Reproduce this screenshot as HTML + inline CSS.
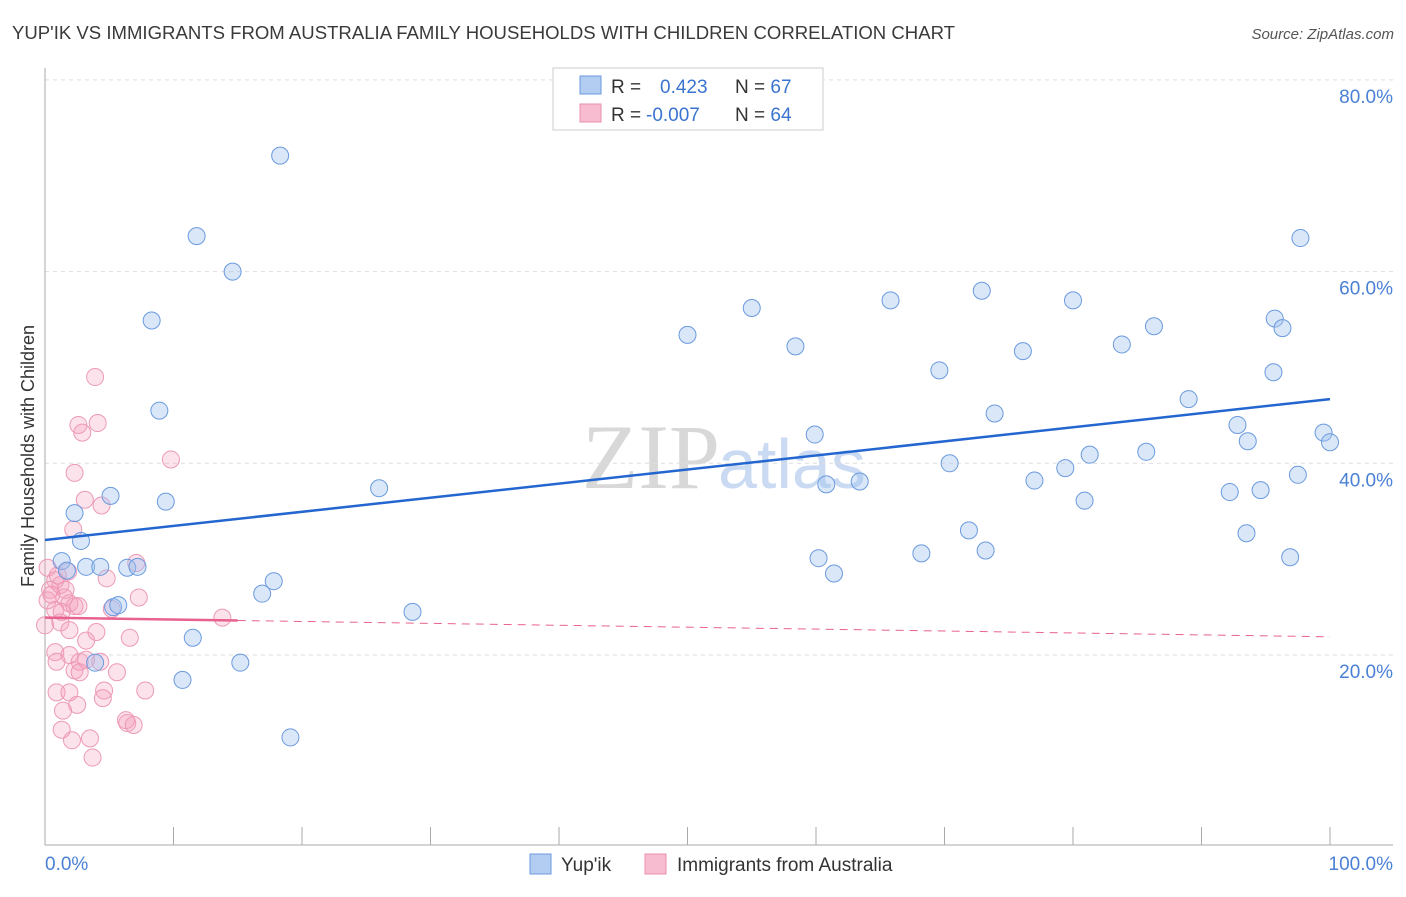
<!DOCTYPE html>
<html><head><meta charset="utf-8"><style>
body{margin:0;background:#fff;font-family:"Liberation Sans",sans-serif}
</style></head><body>
<svg width="1406" height="892" xmlns="http://www.w3.org/2000/svg" font-family="Liberation Sans, sans-serif">
<text x="12" y="39" font-size="18" fill="#3a3a3a" textLength="943" lengthAdjust="spacingAndGlyphs">YUP'IK VS IMMIGRANTS FROM AUSTRALIA FAMILY HOUSEHOLDS WITH CHILDREN CORRELATION CHART</text>
<text x="1394" y="39" font-size="15" fill="#555" text-anchor="end" font-style="italic">Source: ZipAtlas.com</text>
<text x="720" y="488" font-size="92" text-anchor="end" fill="#d8d8d8" font-family="Liberation Serif, serif">ZIP</text>
<text x="718" y="488" font-size="70" fill="#c9daf2">atlas</text>
<g id="grid"></g>
<g id="axes"></g>
<g id="marks"></g>
<g>
<rect x="553" y="68" width="270" height="62" fill="#fff" stroke="#ccc"/>
<rect x="580" y="76" width="21" height="18" fill="#b3cdf2" stroke="#6b98dc"/>
<rect x="580" y="104" width="21" height="18" fill="#f7bccf" stroke="#e98fae"/>
<text x="611" y="93" font-size="19" fill="#333">R = <tspan fill="#3a74d0" x="660">0.423</tspan><tspan fill="#333" x="735">N = </tspan><tspan fill="#3a74d0">67</tspan></text>
<text x="611" y="121" font-size="19" fill="#333">R = <tspan fill="#3a74d0" x="646">-0.007</tspan><tspan fill="#333" x="735">N = </tspan><tspan fill="#3a74d0">64</tspan></text>
</g>
<g>
<rect x="530" y="854" width="21" height="20" fill="#b3cdf2" stroke="#6b98dc"/>
<text x="561" y="871" font-size="19" fill="#333">Yup'ik</text>
<rect x="645" y="854" width="21" height="20" fill="#f7bccf" stroke="#e98fae"/>
<text x="677" y="871" font-size="19" fill="#333">Immigrants from Australia</text>
</g>
<text transform="translate(34,456) rotate(-90)" font-size="18" fill="#333" text-anchor="middle">Family Households with Children</text>
</svg>
<script>
const yTicks=[20,40,60,80];
const yTickLabels=["20.0%","40.0%","60.0%","80.0%"];
const xTickLabels=["0.0%","100.0%"];
const blueX=[18.3,11.8,14.6,8.3,8.9,5.1,9.4,2.3,2.8,1.3,1.7,3.2,4.3,6.4,7.2,5.3,5.7,3.9,11.5,10.7,15.2,16.9,17.8,19.1,26.0,28.6,50.0,55.0,58.4,59.9,60.8,60.2,61.4,63.4,65.8,68.2,69.6,70.4,71.9,72.9,73.2,73.9,76.1,77.0,79.4,80.0,80.9,81.3,83.8,85.7,86.3,89.0,92.2,92.8,93.6,93.5,94.6,95.6,95.7,96.3,96.9,97.5,97.7,99.5,100];
const blueY=[72.1,63.7,60.0,54.9,45.5,36.6,36.0,34.8,31.9,29.8,28.8,29.2,29.2,29.1,29.2,25.0,25.2,19.2,21.8,17.4,19.2,26.4,27.7,11.4,37.4,24.5,53.4,56.2,52.2,43.0,37.8,30.1,28.5,38.1,57.0,30.6,49.7,40.0,33.0,58.0,30.9,45.2,51.7,38.2,39.5,57.0,36.1,40.9,52.4,41.2,54.3,46.7,37.0,44.0,42.3,32.7,37.2,49.5,55.1,54.1,30.2,38.8,63.5,43.2,42.2];
const pinkX=[3.9,2.6,2.9,4.1,2.3,9.8,3.1,4.4,2.2,7.1,1.8,4.8,0.2,0.8,0.4,1.2,0.2,1.5,2.3,1.9,0.8,1.3,2.6,7.3,5.2,4.0,1.2,1.9,3.2,6.6,13.8,0.8,1.9,2.7,3.2,4.3,0.9,2.3,2.7,5.6,7.8,0.9,1.9,4.6,4.5,2.5,1.4,6.4,6.3,6.9,1.3,3.5,2.1,3.7,0.5,1.0,0,1.6];
const pinkY=[49.0,44.0,43.2,44.2,39.0,40.4,36.2,35.6,33.1,29.6,28.7,28.0,29.1,27.8,26.8,27.3,25.7,26.0,25.1,25.4,24.7,24.5,25.1,26.0,24.8,22.4,23.4,22.6,21.5,21.8,23.9,20.3,20.0,19.3,19.5,19.3,19.3,18.4,18.2,18.2,16.3,16.1,16.1,16.3,15.5,14.8,14.2,12.9,13.2,12.7,12.2,11.3,11.1,9.3,26.3,28.3,23.1,26.8];
const blueTrend=[32.0,46.7];
const pinkTrend=[23.9,21.9];
const pinkSolidEnd=15;
const NS="http://www.w3.org/2000/svg";
const X0=45,X1=1330,YB=846.7,YS=9.585;
const sx=v=>X0+(X1-X0)*v/100, sy=v=>YB-v*YS;
function mk(t,a,p){const e=document.createElementNS(NS,t);for(const k in a)e.setAttribute(k,a[k]);p.appendChild(e);return e;}
const grid=document.getElementById('grid'),axes=document.getElementById('axes'),marks=document.getElementById('marks');
yTicks.forEach((v,i)=>{
 const l=mk('line',{x1:X0,x2:1393,y1:sy(v),y2:sy(v),stroke:'#ddd','stroke-dasharray':'4,4'},grid);
 
 
 const t=mk('text',{x:1393,y:sy(v)+23,'font-size':19,fill:'#4a80d6','text-anchor':'end'},grid);
 t.textContent=yTickLabels[i];
 
 
});
const ax=mk('line',{x1:X0,x2:1393,y1:845,y2:845,stroke:'#aaa'},axes);


const ay=mk('line',{x1:X0,x2:X0,y1:68,y2:845,stroke:'#aaa'},axes);


for(let i=0;i<=10;i++){const t=mk('line',{x1:sx(i*10),x2:sx(i*10),y1:827,y2:845,stroke:'#aaa'},axes);
 
 }
[[sx(0),'start'],[1393,'end']].forEach((p,i)=>{const t=mk('text',{x:p[0],y:870,'font-size':19,fill:'#4a80d6','text-anchor':p[1]},axes);t.textContent=xTickLabels[i];
 
 });
pinkX.forEach((v,i)=>{const c=mk('circle',{cx:sx(v),cy:sy(pinkY[i]),r:8.5,fill:'rgba(244,160,188,0.3)',stroke:'#ec9ab6','stroke-width':1},marks);
 
 });
blueX.forEach((v,i)=>{const c=mk('circle',{cx:sx(v),cy:sy(blueY[i]),r:8.5,fill:'rgba(160,195,240,0.4)',stroke:'#6b9ade','stroke-width':1},marks);
 
 });
const bt=mk('line',{x1:sx(0),y1:sy(blueTrend[0]),x2:sx(100),y2:sy(blueTrend[1]),stroke:'#2466d0','stroke-width':2.5},marks);


const pm=pinkTrend[0]+(pinkTrend[1]-pinkTrend[0])*pinkSolidEnd/100;
const pt=mk('line',{x1:sx(0),y1:sy(pinkTrend[0]),x2:sx(pinkSolidEnd),y2:sy(pm),stroke:'#e8628e','stroke-width':2.5},marks);


const pd=mk('line',{x1:sx(pinkSolidEnd),y1:sy(pm),x2:sx(100),y2:sy(pinkTrend[1]),stroke:'#e8628e','stroke-width':1,'stroke-dasharray':'8,6'},marks);


</script>
</body></html>
